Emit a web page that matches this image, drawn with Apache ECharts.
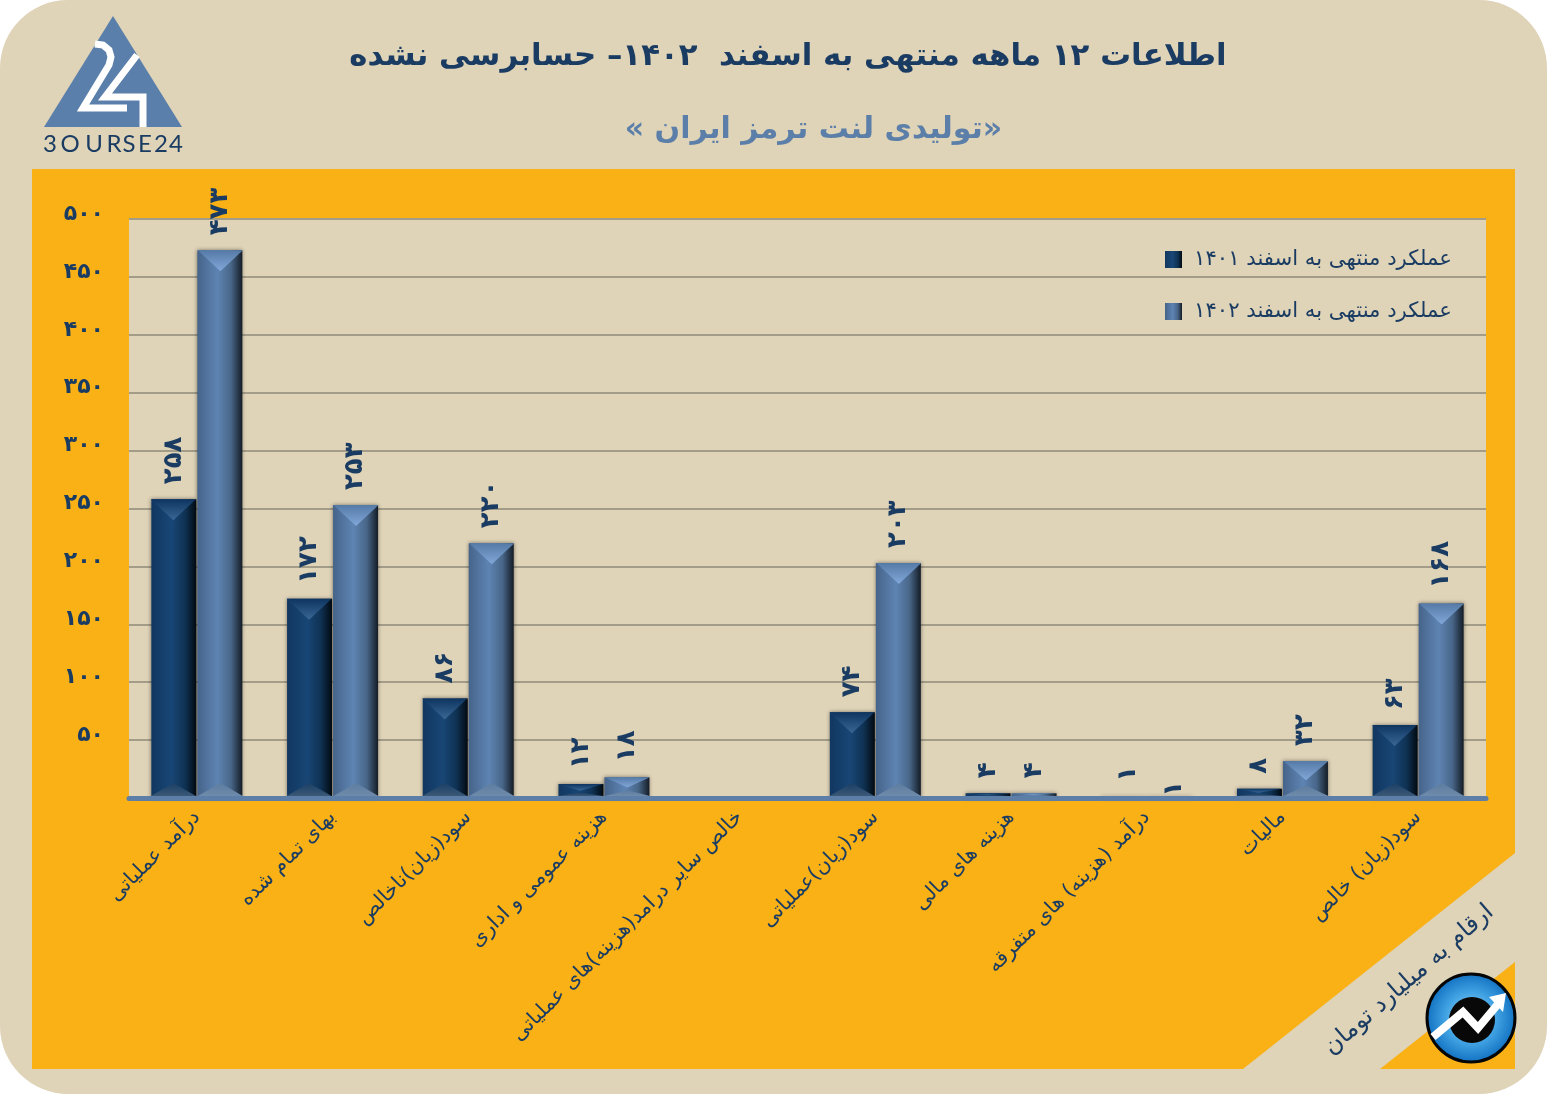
<!DOCTYPE html>
<html dir="rtl">
<head>
<meta charset="utf-8">
<title>Bourse24</title>
<style>
  html, body { margin: 0; padding: 0; background: #fff; }
  #chart { width: 1547px; height: 1094px; }
</style>
<script src="https://cdn.jsdelivr.net/npm/echarts@6/dist/echarts.min.js"></script>
</head>
<body>
<div id="chart"></div>
<script>
var categories = [
  'درآمد عملیاتی',
  'بهای تمام شده',
  'سود(زیان)ناخالص',
  'هزینه عمومی و اداری',
  'خالص سایر درامد(هزینه)های عملیاتی',
  'سود(زیان)عملیاتی',
  'هزینه های مالی',
  'درآمد (هزینه) های متفرقه',
  'مالیات',
  'سود(زیان) خالص'
];
var values1401 = [258, 172, 86, 12, null, 74, 4, 1, 8, 63];
var values1402 = [473, 253, 220, 18, null, 203, 4, 1, 32, 168];
var name1401 = 'عملکرد منتهی به اسفند ۱۴۰۱';
var name1402 = 'عملکرد منتهی به اسفند ۱۴۰۲';
var titleText = 'اطلاعات ۱۲ ماهه منتهی به اسفند  ۱۴۰۲– حسابرسی نشده';
var subtitleText = '«تولیدی لنت ترمز ایران »';
var unitText = 'ارقام به میلیارد تومان';

var faFont = '"DejaVu Sans"';
var navy = '#1b3c62';
var beige = '#dfd3b8';
var orange = '#f9b116';

// 0-9 => persian digits
function fa (n) {
  return String(n).replace(/\d/g, function (d) { return '۰۱۲۳۴۵۶۷۸۹'[d]; });
}

function hGrad (a, b, c) {
  return new echarts.graphic.LinearGradient(0, 0, 1, 0, [
    {offset: 0, color: a}, {offset: 0.45, color: b}, {offset: 0.75, color: c[0]}, {offset: 1, color: c[1]}
  ]);
}
function vGrad (a, b) {
  return new echarts.graphic.LinearGradient(0, 0, 0, 1, [{offset: 0, color: a}, {offset: 1, color: b}]);
}

var BAR_W = 45, BAR_OFF = 23.5;

// chevrons on top and bottom of each bar, placed from the axis scale
function bevel (side, topA, topB, botA, botB) {
  return function (params, api) {
    var v = api.value(1);
    if (v == null || isNaN(v)) return;
    var top = api.coord([api.value(0), v]);
    var base = api.coord([api.value(0), 0]);
    var cx = top[0] + side * BAR_OFF;
    var l = cx - BAR_W / 2, r = cx + BAR_W / 2;
    var h = base[1] - top[1] - 2;
    if (h <= 0) return;
    var tipT = Math.min(21, h * 0.55), tipB = Math.min(13, h * 0.3);
    return {
      type: 'group',
      children: [
        {type: 'polygon', shape: {points: [[l, top[1]], [r, top[1]], [cx, top[1] + tipT]]}, style: {fill: vGrad(topA, topB)}},
        {type: 'polygon', shape: {points: [[l, base[1] - 2], [r, base[1] - 2], [cx, base[1] - 2 - tipB]]}, style: {fill: vGrad(botA, botB)}}
      ]
    };
  };
}

function idx (arr) {
  return arr.map(function (v, i) { return [i, v]; });
}

function barLabel () {
  return {
    show: true,
    position: 'top',
    distance: 15,
    rotate: 90,
    align: 'left',
    verticalAlign: 'middle',
    color: navy,
    fontFamily: faFont,
    fontWeight: 'bold',
    fontSize: 26,
    formatter: function (p) { return fa(p.value); }
  };
}

// the two ۱ labels of category 8 sit lower in the picture
var data1401 = values1401.map(function (v, i) {
  if (i === 7) return {value: v, label: {offset: [0, 4]}};
  return v;
});
var data1402 = values1402.map(function (v, i) {
  if (i === 7) return {value: v, label: {distance: 0, offset: [0, 5]}};
  return v;
});

var logoLetters = '3OURSE24'.split('');
var logoX = [50, 70, 94, 114, 129, 145, 161, 176];

var bg = [
  {type: 'rect', z: -10, shape: {x: 0, y: 0, width: 1547, height: 1094, r: 68}, style: {fill: beige}},
  {type: 'rect', z: -9, shape: {x: 32, y: 169, width: 1483, height: 900}, style: {fill: orange}},
  {type: 'polygon', z: -8, shape: {points: [[1515, 853], [1515, 962], [1380, 1069], [1243, 1069]]}, style: {fill: beige}},
  // bourse24 logo
  {type: 'polygon', z: 5, shape: {points: [[113, 16], [44, 127], [182, 127]]}, style: {fill: '#5a7fab'}},
  {type: 'polyline', z: 6, shape: {points: [[95, 44], [103, 45], [109, 50], [111, 57], [109, 65], [83, 108], [127, 108]]}, style: {fill: 'none', stroke: '#fff', lineWidth: 7}},
  {type: 'polyline', z: 6, shape: {points: [[137, 55], [105, 97], [143, 97], [143, 127]]}, style: {fill: 'none', stroke: '#fff', lineWidth: 7}},
  // bottom right badge
  {type: 'circle', z: 5, shape: {cx: 1471, cy: 1018, r: 44}, style: {
    fill: new echarts.graphic.RadialGradient(0.5, 0.5, 0.5, [{offset: 0, color: '#a9dcf7'}, {offset: 0.55, color: '#43a4e4'}, {offset: 1, color: '#0f6fc0'}]),
    stroke: '#050505', lineWidth: 3
  }},
  {type: 'circle', z: 6, shape: {cx: 1472, cy: 1020, r: 23}, style: {fill: '#080808'}},
  {type: 'polyline', z: 7, shape: {points: [[1433, 1037], [1463, 1012], [1478, 1028], [1498, 1004]]}, style: {fill: 'none', stroke: '#fff', lineWidth: 8}},
  {type: 'polygon', z: 7, shape: {points: [[1506, 993], [1489, 997], [1503, 1012]]}, style: {fill: '#fff'}},
  {type: 'text', z: 5, x: 1409, y: 980, rotation: 41 * Math.PI / 180, style: {
    text: unitText, fill: navy, font: '24px ' + faFont, textAlign: 'center', textVerticalAlign: 'middle'
  }}
];
logoLetters.forEach(function (c, i) {
  bg.push({type: 'text', z: 5, x: logoX[i], y: 144, style: {
    text: c, fill: navy, font: '24px Lato', textAlign: 'center', textVerticalAlign: 'middle'
  }});
});

var chart = echarts.init(document.getElementById('chart'), null, {renderer: 'canvas'});
chart.setOption({
  animation: false,
  textStyle: {fontFamily: faFont},
  title: [
    {text: titleText, left: 783, top: 36, textAlign: 'center', textStyle: {color: navy, fontFamily: faFont, fontWeight: 'bold', fontSize: 30.8}},
    {text: subtitleText, left: 808.5, top: 110, textAlign: 'center', textStyle: {color: '#5b7fa8', fontFamily: faFont, fontWeight: 'bold', fontSize: 30}}
  ],
  legend: {
    orient: 'vertical',
    left: 1160,
    top: 244,
    itemWidth: 17,
    itemHeight: 17,
    itemGap: 31,
    icon: 'rect',
    data: [name1401, name1402],
    textStyle: {color: navy, fontFamily: faFont, fontSize: 21.2, padding: [0, 0, 6, 7]}
  },
  grid: {show: true, left: 129, right: 61, top: 219, bottom: 296, backgroundColor: beige, borderWidth: 0},
  xAxis: {
    type: 'category',
    data: categories,
    z: 4,
    axisTick: {show: false},
    axisLine: {lineStyle: {color: '#5d7ea6', width: 5}},
    axisLabel: {
      interval: 0,
      rotate: 45,
      margin: 16,
      color: navy,
      fontFamily: faFont,
      fontSize: 20.5
    }
  },
  yAxis: {
    type: 'value',
    min: 0,
    max: 500,
    interval: 50,
    axisLine: {show: false},
    axisTick: {show: false},
    splitLine: {lineStyle: {color: '#a29c88', width: 2}},
    axisLabel: {
      margin: 25,
      color: navy,
      fontFamily: faFont,
      fontWeight: 'bold',
      fontSize: 22,
      verticalAlign: 'bottom',
      lineHeight: 10,
      formatter: function (v) { return v === 0 ? '' : fa(v); }
    }
  },
  series: [
    {
      name: name1401,
      type: 'bar',
      barWidth: BAR_W,
      barGap: '2.2%',
      data: data1401,
      label: barLabel(),
      itemStyle: {color: hGrad('#113760', '#184675', ['#0f3253', '#020a12']), shadowColor: 'rgba(0,0,0,0.45)', shadowBlur: 4}
    },
    {
      name: name1402,
      type: 'bar',
      barWidth: BAR_W,
      data: data1402,
      label: barLabel(),
      itemStyle: {color: hGrad('#46648a', '#5e84b3', ['#486688', '#141c26']), shadowColor: 'rgba(0,0,0,0.45)', shadowBlur: 4}
    },
    {
      type: 'custom',
      silent: true,
      z: 3,
      data: idx(values1401),
      renderItem: bevel(-1, '#0e3560', '#3a6796', '#1a3f66', '#3b5876')
    },
    {
      type: 'custom',
      silent: true,
      z: 3,
      data: idx(values1402),
      renderItem: bevel(1, '#557aa6', '#82a8da', '#5d7c9f', '#6f8bab')
    }
  ],
  graphic: {elements: bg}
});
</script>
</body>
</html>
